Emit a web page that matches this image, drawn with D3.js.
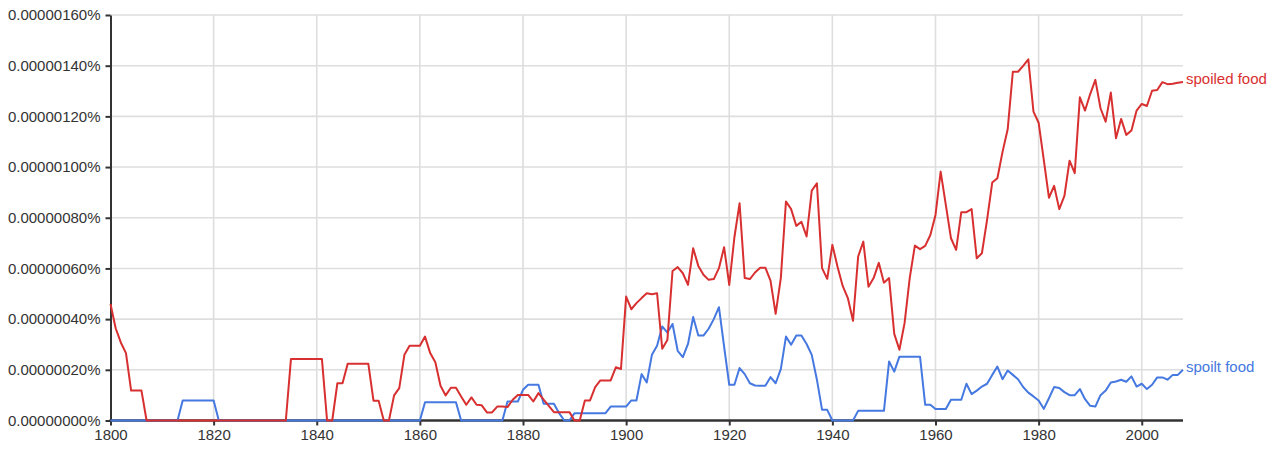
<!DOCTYPE html>
<html>
<head>
<meta charset="utf-8">
<script src="https://cdn.jsdelivr.net/npm/d3@7"></script>
<style>
  html, body { margin: 0; padding: 0; background: #fff; }
  svg { display: block; font-family: "Liberation Sans", Arial, Helvetica, sans-serif; }
</style>
</head>
<body>
<svg id="chart" width="1276" height="451"></svg>
<script>
// Years covered
const startYear = 1800;
const endYear = 2008;

// Series values in units of 0.00000001 %
const spoiledFood = [
  46, 36.4, 30.8, 26.6, 11.8, 11.8, 11.8, 0, 0, 0,
  0, 0, 0, 0, 0, 0, 0, 0, 0, 0,
  0, 0, 0, 0, 0, 0, 0, 0, 0, 0,
  0, 0, 0, 0, 0, 24.3, 24.3, 24.3, 24.3, 24.3,
  24.3, 24.3, 0, 0, 14.7, 14.7, 22.4, 22.4, 22.4, 22.4,
  22.4, 7.8, 7.8, 0, 0, 9.9, 12.8, 25.9, 29.5, 29.5,
  29.5, 33.1, 26.6, 23, 13.7, 9.9, 12.9, 12.9, 9.5, 6.2,
  9.1, 6.2, 6, 3.2, 3.2, 5.5, 5.5, 5.3, 8.2, 10.1,
  10.1, 10.1, 7.5, 10.8, 8.2, 5.8, 3.3, 3.3, 3.3, 3.3,
  0, 0, 7.9, 7.9, 13.2, 15.8, 15.8, 15.8, 21, 20.3,
  48.9, 43.9, 46.3, 48.3, 50.2, 49.8, 50.2, 28.3, 31.8, 59,
  60.5, 58.1, 53.5, 68, 61, 57.5, 55.5, 55.8, 60.1, 68.4,
  53.5, 72.3, 85.7, 56.2, 55.8, 58.4, 60.3, 60.3, 55.2, 42.1,
  56.2, 86.4, 83.4, 76.8, 78.4, 72.6, 90.7, 93.6, 60.1, 55.9,
  69.3, 60.7, 53.1, 48.3, 39.3, 64.7, 70.6, 52.8, 56.2, 62.2,
  54.4, 56.2, 34.2, 27.9, 38.4, 56.2, 69, 67.6, 68.9, 73.2,
  81.1, 98.2, 85.1, 71.9, 67.3, 82.2, 82.2, 83.4, 64, 66,
  79.2, 93.9, 95.6, 106, 114.9, 137.6, 137.6, 139.9, 142.5, 121.9,
  117.5, 102.8, 87.9, 92.6, 83.4, 88.6, 102.5, 97.6, 127.5, 122.3,
  128.8, 134.4, 123.2, 117.9, 129.4, 111.4, 119, 112.7, 114.4, 122.3,
  124.9, 124.1, 130.1, 130.4, 133.5, 132.7, 132.9, 133.3, 133.6
];

const spoiltFood = [
  0, 0, 0, 0, 0, 0, 0, 0, 0, 0,
  0, 0, 0, 0, 7.9, 7.9, 7.9, 7.9, 7.9, 7.9,
  7.9, 0, 0, 0, 0, 0, 0, 0, 0, 0,
  0, 0, 0, 0, 0, 0, 0, 0, 0, 0,
  0, 0, 0, 0, 0, 0, 0, 0, 0, 0,
  0, 0, 0, 0, 0, 0, 0, 0, 0, 0,
  0, 7.2, 7.2, 7.2, 7.2, 7.2, 7.2, 7.2, 0, 0,
  0, 0, 0, 0, 0, 0, 0, 7.5, 7.5, 7.5,
  12.1, 14.1, 14.1, 14.1, 6.6, 6.6, 6.6, 2.9, 0, 0,
  2.9, 2.9, 2.9, 2.9, 2.9, 2.9, 2.9, 5.5, 5.5, 5.5,
  5.5, 7.9, 7.9, 18.3, 15, 25.9, 29.5, 37.1, 34.7, 38.1,
  27.5, 25, 30.2, 40.8, 33.5, 33.5, 36.2, 40, 44.7, 29.2,
  14.1, 14.1, 20.7, 18.3, 14.7, 13.8, 13.7, 13.7, 17.1, 14.7,
  20.3, 33.1, 29.9, 33.5, 33.5, 30.2, 25.9, 16.1, 4.2, 4.2,
  0, 0, 0, 0, 0, 3.8, 3.8, 3.8, 3.8, 3.8,
  3.8, 23.3, 19.3, 25.2, 25.2, 25.2, 25.2, 25.2, 6.2, 6.2,
  4.5, 4.5, 4.5, 8.2, 8.2, 8.2, 14.5, 10.4, 11.8, 13.4,
  14.5, 18, 21.3, 16.3, 19.7, 18, 16.3, 13.2, 11, 9.5,
  7.9, 4.6, 8.8, 13.2, 12.8, 11.2, 10, 10, 12.4, 8.4,
  5.8, 5.5, 10, 11.8, 15, 15.4, 16.1, 15.3, 17.4, 13.4,
  14.5, 12.4, 14.1, 17, 17, 16.1, 18, 18, 20
];

const seriesNames = ["spoilt food", "spoiled food"];
const seriesColors = ["#4578e0", "#d83030"];

// Tick values
const xTicks = [1800, 1820, 1840, 1860, 1880, 1900, 1920, 1940, 1960, 1980, 2000];
const yTicks = [0, 20, 40, 60, 80, 100, 120, 140, 160];
const yTickLabels = ["0.00000000%", "0.00000020%", "0.00000040%", "0.00000060%", "0.00000080%",
                     "0.00000100%", "0.00000120%", "0.00000140%", "0.00000160%"];

(function () {
const svg = d3.select("#chart");
const plotLeft = 110.5, plotRight = 1183, plotTop = 15, plotBottom = 420.5;

const x = d3.scaleLinear().domain([startYear, endYear]).range([plotLeft, plotRight]);
const y = d3.scaleLinear().domain([0, 160]).range([plotBottom, plotTop]);

const years = d3.range(startYear, endYear + 1);
const allSeries = [spoiltFood, spoiledFood].map((vals, i) => ({
  name: seriesNames[i],
  color: seriesColors[i],
  points: vals.map((v, j) => ({ year: years[j], v }))
}));

// Grid
const grid = svg.append("g");
grid.selectAll("line.h").data(yTicks.filter(t => t > 0)).join("line")
  .attr("class", "h")
  .attr("x1", plotLeft).attr("x2", plotRight)
  .attr("y1", d => y(d)).attr("y2", d => y(d))
  .attr("stroke", "#dedede").attr("stroke-width", 1.6);
grid.selectAll("line.v").data(xTicks.filter(t => t > startYear)).join("line")
  .attr("class", "v")
  .attr("x1", d => x(d)).attr("x2", d => x(d))
  .attr("y1", plotTop).attr("y2", plotBottom)
  .attr("stroke", "#dedede").attr("stroke-width", 1.6);

// Axes
const yAxis = svg.append("g")
  .attr("transform", `translate(${plotLeft},0)`)
  .call(d3.axisLeft(y).tickValues(yTicks).tickSize(5).tickSizeOuter(0).tickPadding(5)
    .tickFormat((d, i) => yTickLabels[i]));
yAxis.select(".domain").attr("stroke", "#333").attr("stroke-width", 2);
yAxis.selectAll(".tick line").attr("stroke", "#333").attr("stroke-width", 2);
yAxis.selectAll(".tick text").attr("fill", "#333").style("font-size", "15px")
  .attr("font-family", "Liberation Sans, Arial, sans-serif");

const xAxis = svg.append("g")
  .attr("transform", `translate(0,${plotBottom})`)
  .call(d3.axisBottom(x).tickValues(xTicks).tickSize(5).tickSizeOuter(0).tickPadding(4)
    .tickFormat(d3.format("d")));
xAxis.select(".domain").attr("stroke", "#333").attr("stroke-width", 2.6)
  .attr("d", `M${plotLeft - 1},0H${plotRight}`);
xAxis.selectAll(".tick line").attr("stroke", "#333").attr("stroke-width", 2);
xAxis.selectAll(".tick text").attr("fill", "#333").style("font-size", "15px")
  .attr("font-family", "Liberation Sans, Arial, sans-serif");

// Lines
const line = d3.line().x(d => x(d.year)).y(d => y(d.v));
svg.append("g").selectAll("path").data(allSeries).join("path")
  .attr("d", d => line(d.points))
  .attr("fill", "none")
  .attr("stroke", d => d.color)
  .attr("stroke-width", 2)
  .attr("stroke-linejoin", "round");

// Labels at line ends
svg.append("g").selectAll("text").data(allSeries).join("text")
  .attr("x", d => x(endYear) + 3)
  .attr("y", d => y(d.points[d.points.length - 1].v) + 2.5)
  .attr("fill", d => d.color)
  .style("font-size", "15px")
  .text(d => d.name);
})();
</script>
</body>
</html>
